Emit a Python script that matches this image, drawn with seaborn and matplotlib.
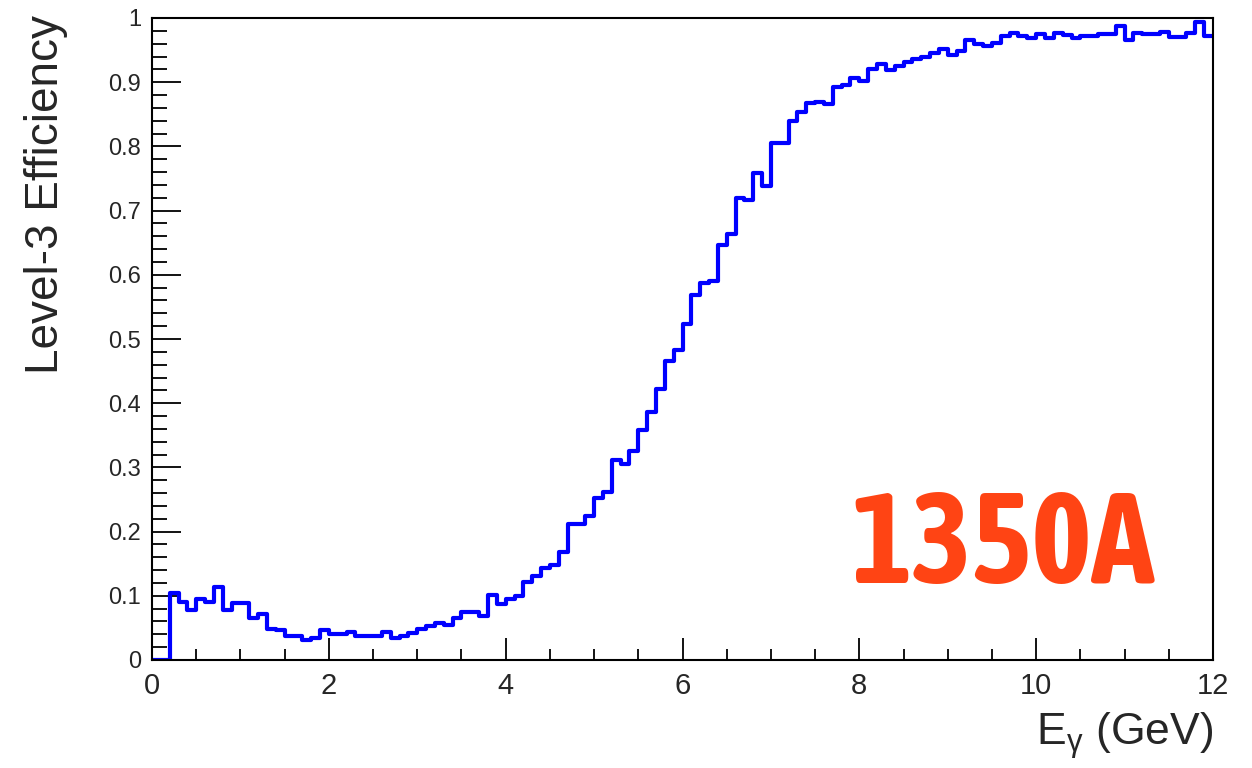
import numpy as np
import pandas as pd
import matplotlib
matplotlib.use("Agg")
import matplotlib.pyplot as plt
from matplotlib import font_manager
import seaborn as sns
from matplotlib.ticker import MultipleLocator

# ---- data (120 bins of 0.1 GeV, 0..12) ----
n_bins = 120
e_min, e_max = 0.0, 12.0
efficiency = [
    0.000, 0.000, 0.105, 0.091, 0.078, 0.095, 0.091, 0.114, 0.078, 0.089,
    0.089, 0.065, 0.072, 0.049, 0.047, 0.037, 0.037, 0.031, 0.034, 0.047,
    0.041, 0.041, 0.044, 0.037, 0.037, 0.037, 0.044, 0.034, 0.037, 0.042,
    0.048, 0.053, 0.058, 0.055, 0.065, 0.074, 0.074, 0.069, 0.101, 0.088,
    0.095, 0.099, 0.121, 0.131, 0.143, 0.148, 0.168, 0.212, 0.212, 0.225,
    0.252, 0.261, 0.312, 0.306, 0.325, 0.359, 0.386, 0.422, 0.465, 0.483,
    0.524, 0.569, 0.587, 0.590, 0.647, 0.664, 0.720, 0.717, 0.758, 0.738,
    0.806, 0.806, 0.840, 0.853, 0.867, 0.869, 0.866, 0.892, 0.896, 0.906,
    0.902, 0.921, 0.928, 0.919, 0.926, 0.932, 0.936, 0.940, 0.946, 0.952,
    0.942, 0.949, 0.965, 0.959, 0.956, 0.961, 0.972, 0.977, 0.972, 0.969,
    0.975, 0.969, 0.977, 0.973, 0.969, 0.972, 0.972, 0.975, 0.975, 0.987,
    0.965, 0.977, 0.975, 0.975, 0.978, 0.971, 0.970, 0.976, 0.993, 0.972,
]
x_ticks = [0, 2, 4, 6, 8, 10, 12]
y_ticks = [0, 0.1, 0.2, 0.3, 0.4, 0.5, 0.6, 0.7, 0.8, 0.9, 1]
y_tick_labels = ["0", "0.1", "0.2", "0.3", "0.4", "0.5", "0.6", "0.7", "0.8", "0.9", "1"]
x_label = r"E$_{\mathrm{\gamma}}$ (GeV)"
y_label = "Level-3 Efficiency"
stamp = "1350A"

width = (e_max - e_min) / n_bins
centers = e_min + width * (np.arange(n_bins) + 0.5)
df = pd.DataFrame({"E": centers, "eff": efficiency})

# look for an installed condensed / narrow family
condensed = None
for f in font_manager.fontManager.ttflist:
    nm = f.name
    if ("Condensed" in nm or "Narrow" in nm) and f.weight in ("bold", 700, "heavy", 800, 900):
        condensed = nm
        break
if condensed is None:
    for f in font_manager.fontManager.ttflist:
        if "Condensed" in f.name or "Narrow" in f.name or f.stretch in ("condensed", "semi-condensed", "extra-condensed"):
            condensed = f.name
            break

sns.set_theme(style="white")
plt.rcParams["font.family"] = ["Liberation Sans", "DejaVu Sans"]
plt.rcParams["mathtext.fontset"] = "custom"
plt.rcParams["mathtext.rm"] = "Liberation Sans"
plt.rcParams["mathtext.it"] = "Liberation Sans:italic"

fig = plt.figure(figsize=(12.52, 7.68), dpi=100)
ax = fig.add_axes([152 / 1252, 1 - 660 / 768, (1213 - 152) / 1252, (660 - 18) / 768])

sns.histplot(data=df, x="E", weights="eff", bins=n_bins, binrange=(e_min, e_max),
             element="step", fill=False, color="#0000ff", linewidth=3.0, ax=ax)

ax.set_xlim(e_min, e_max)
ax.set_ylim(0, 1)
ax.set_xlabel("")
ax.set_ylabel("")

for s in ax.spines.values():
    s.set_color("black")
    s.set_linewidth(1.5)
    s.set_visible(True)

ax.set_xticks(x_ticks)
ax.set_xticklabels([str(v) for v in x_ticks])
ax.xaxis.set_minor_locator(MultipleLocator(0.5))
ax.set_yticks(y_ticks)
ax.set_yticklabels(y_tick_labels)
ax.yaxis.set_minor_locator(MultipleLocator(0.02))

ax.tick_params(axis="both", which="both", direction="in", color="black",
               bottom=True, left=True, top=False, right=False)
ax.tick_params(axis="x", which="major", length=16, width=1.3, pad=9, labelsize=21)
ax.tick_params(axis="x", which="minor", length=8, width=1.3)
ax.tick_params(axis="y", which="major", length=21, width=1.3, pad=8, labelsize=17)
ax.tick_params(axis="y", which="minor", length=10.5, width=1.3)

ax.text(-0.100, 1.005, y_label, rotation=90, ha="center", va="top",
        fontsize=33, transform=ax.transAxes)
ax.text(1.0, -0.118, x_label, ha="right", va="center", fontsize=32,
        transform=ax.transAxes)

if condensed is not None:
    ax.text(0.802, 0.120, stamp, ha="center", va="baseline", fontsize=92,
            fontweight="bold", color="#ff4414",
            family=[condensed, "Liberation Sans"], transform=ax.transAxes)
else:
    ax.text(0.802, 0.128, stamp, ha="center", va="baseline", fontsize=82,
            fontweight="bold", color="#ff4414", transform=ax.transAxes)

fig.savefig("out.png", dpi=100, facecolor="white")
